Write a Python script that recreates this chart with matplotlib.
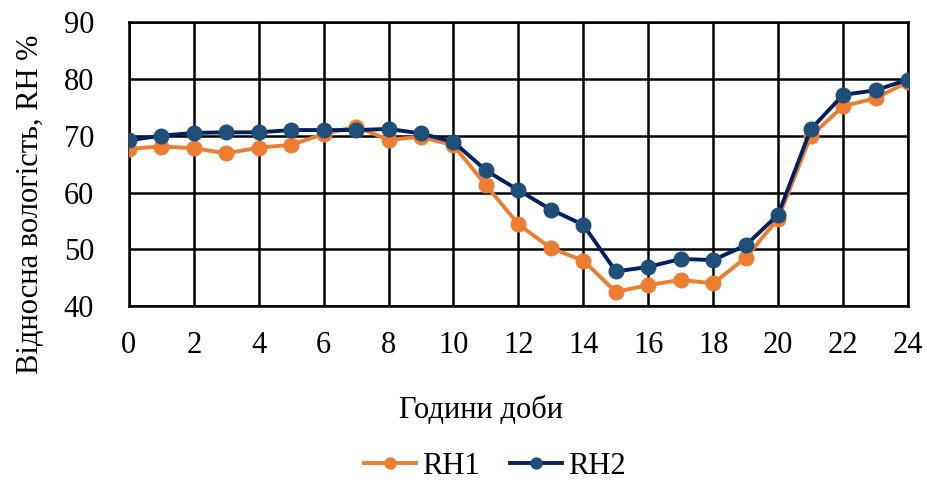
import matplotlib.pyplot as plt

# Hourly relative humidity readings from two sensors
hours = list(range(25))
rh1 = [67.7, 68.1, 67.8, 66.9, 67.9, 68.4, 70.3, 71.6, 69.3, 69.8, 68.3,
       61.3, 54.4, 50.2, 48.0, 42.5, 43.7, 44.6, 44.0, 48.5, 55.4, 69.9,
       75.2, 76.6, 79.5]
rh2 = [69.2, 70.0, 70.5, 70.6, 70.6, 71.0, 71.0, 71.0, 71.2, 70.4, 68.9,
       63.9, 60.4, 57.0, 54.3, 46.1, 46.9, 48.3, 48.1, 50.7, 56.1, 71.1,
       77.2, 78.0, 79.9]
xticks = list(range(0, 25, 2))
yticks = [40, 50, 60, 70, 80, 90]

plt.rcParams['font.family'] = ['Liberation Serif', 'DejaVu Serif']
fs = 22

fig = plt.figure(figsize=(9.27, 4.82), dpi=100)
ax = fig.add_axes([0.139, 0.365, 0.8405, 0.589])

ax.plot(hours, rh1, '-o', color='#ED7D31', lw=2.8, ms=10.5,
        mfc='#ED7D31', mec='#ED7D31', label='RH1', zorder=3)
ax.plot(hours, rh2, '-o', color='#002060', lw=2.8, ms=10.5,
        mfc='#1F4E79', mec='#1F4E79', label='RH2', zorder=4)

ax.set_xlim(0, 24)
ax.set_ylim(40, 90)
ax.set_xticks(xticks)
ax.set_yticks(yticks)
ax.grid(True, color='black', lw=1.8)
ax.set_axisbelow(True)
for s in ax.spines.values():
    s.set_color('black')
    s.set_linewidth(1.8)
ax.tick_params(axis='y', length=0, labelsize=fs, pad=25)
ax.tick_params(axis='x', length=0, labelsize=fs, pad=18)

# axis titles placed relative to the whole figure
fig.text(481 / 927, 1 - 410 / 482, 'Години доби', fontsize=fs,
         ha='center', va='center')
fig.text(31 / 927, 1 - 204 / 482, 'Відносна вологість, RH %', fontsize=fs,
         rotation=90, ha='center', va='center')

fig.legend(loc='center', bbox_to_anchor=(495 / 927, 1 - 466 / 482), ncol=2,
           frameon=False, fontsize=fs, handlelength=1.7, columnspacing=1.0,
           handletextpad=0.2, markerscale=0.75, borderaxespad=0)

fig.savefig('out.png', dpi=100)
